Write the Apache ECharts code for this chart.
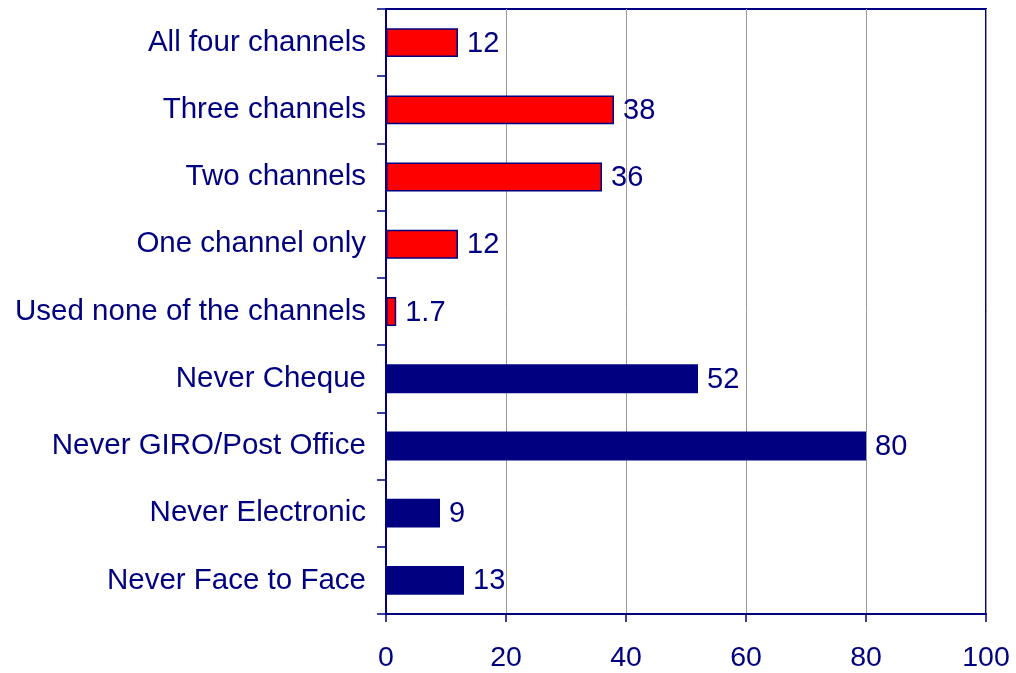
<!DOCTYPE html>
<html>
<head>
<meta charset="utf-8">
<script src="https://cdn.jsdelivr.net/npm/echarts@6/dist/echarts.min.js"></script>
<style>
  html, body { margin: 0; padding: 0; background: #ffffff; }
  #chart { width: 1016px; height: 673px; }
</style>
</head>
<body>
<div id="chart"></div>
<script>
// Channel usage (top group) and channels never used (bottom group), percent
const categories = [
  'All four channels',
  'Three channels',
  'Two channels',
  'One channel only',
  'Used none of the channels',
  'Never Cheque',
  'Never GIRO/Post Office',
  'Never Electronic',
  'Never Face to Face'
];
const values = [12, 38, 36, 12, 1.7, 52, 80, 9, 13];
const groups = ['count', 'count', 'count', 'count', 'count', 'never', 'never', 'never', 'never'];
const xTicks = [0, 20, 40, 60, 80, 100];

const NAVY = '#000080';
const RED = '#ff0000';
const FONT = 'Liberation Sans, Arial, sans-serif';

const barData = values.map((v, i) => ({
  value: v,
  itemStyle: groups[i] === 'count'
    ? { color: RED, borderColor: NAVY, borderWidth: 1.5 }
    : { color: NAVY }
}));

const chart = echarts.init(document.getElementById('chart'), null, { renderer: 'canvas' });
chart.setOption({
  animation: false,
  backgroundColor: '#ffffff',
  grid: {
    left: 386, right: 30, top: 9, bottom: 58,
    show: true, borderColor: NAVY, borderWidth: 2, backgroundColor: 'transparent'
  },
  xAxis: {
    type: 'value',
    min: xTicks[0],
    max: xTicks[xTicks.length - 1],
    interval: 20,
    axisLine: { show: true, lineStyle: { color: NAVY, width: 2 } },
    axisTick: { show: true, length: 8, lineStyle: { color: NAVY, width: 1.5 } },
    axisLabel: { color: NAVY, fontSize: 28.5, fontFamily: FONT, margin: 30 },
    splitLine: { show: true, lineStyle: { color: '#999999', width: 1 } }
  },
  yAxis: {
    type: 'category',
    data: categories,
    inverse: true,
    axisLine: { show: true, lineStyle: { color: NAVY, width: 2 } },
    axisTick: { show: true, length: 9, lineStyle: { color: NAVY, width: 1.5 } },
    axisLabel: { color: NAVY, fontSize: 29.5, fontFamily: FONT, margin: 20 },
    splitLine: { show: false }
  },
  series: [{
    type: 'bar',
    data: barData,
    barWidth: '43%',
    label: {
      show: true,
      position: 'right',
      distance: 9,
      offset: [0, 1],
      color: NAVY,
      fontSize: 29,
      fontFamily: FONT
    }
  }]
});
</script>
</body>
</html>
